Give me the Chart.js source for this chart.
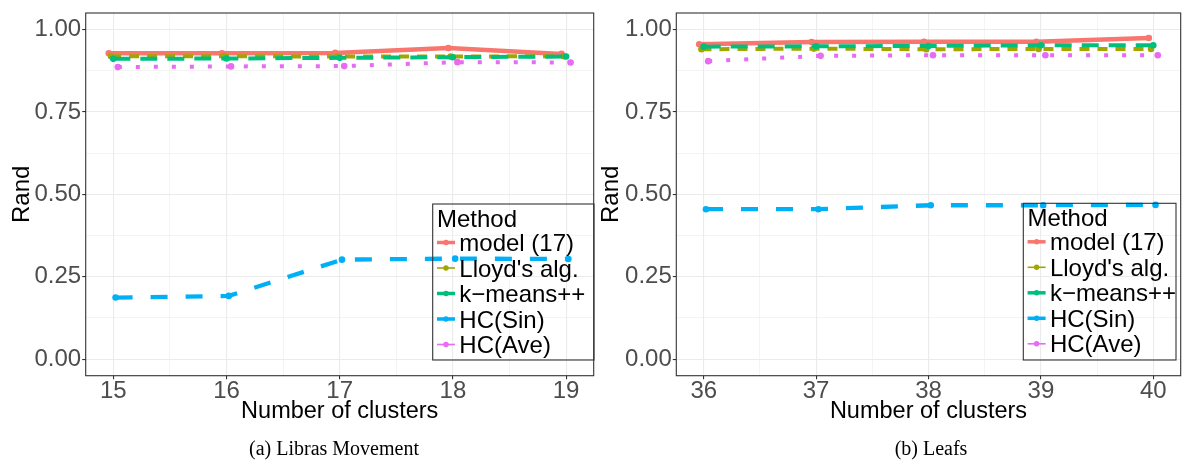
<!DOCTYPE html>
<html>
<head>
<meta charset="utf-8">
<script src="https://cdn.jsdelivr.net/npm/chart.js@4.4.1/dist/chart.umd.min.js"></script>
<style>
  html, body { margin: 0; padding: 0; background: #fff; }
  #wrap { position: relative; width: 1184px; height: 463px; overflow: hidden; }
  canvas { position: absolute; top: 0; }
  #c1 { left: 0; }
  #c2 { left: 597px; }
  .caption {
    position: absolute; top: 437px; line-height: 23px;
    font-family: "Liberation Serif", "Times New Roman", serif; font-size: 20px;
    color: #000; transform: translateX(-50%); white-space: nowrap;
  }
</style>
</head>
<body>
<div id="wrap">
  <canvas id="c1" width="597" height="463"></canvas>
  <canvas id="c2" width="587" height="463"></canvas>
  <div class="caption" style="left:334px">(a) Libras Movement</div>
  <div class="caption" style="left:931px">(b) Leafs</div>
</div>
<script>
// series, in ggplot's default hue order
const methods = ['model (17)', "Lloyd's alg.", 'k\u2212means++', 'HC(Sin)', 'HC(Ave)'];
const colors = ['#F8766D', '#A3A500', '#00BF7D', '#00B0F6', '#E76BF3'];
const dashes = [[], [10, 8], [17, 10], [17, 18], [4, 14]];
const lineWidths = [4.5, 4, 4, 4.3, 4];
const keyWidths = [3.5, 1.6, 3.5, 3.5, 1.6];
const dodge = [-0.04, -0.02, 0, 0.02, 0.04];

// (a) Libras Movement
const librasClusters = [15, 16, 17, 18, 19];
const librasModel = [0.928, 0.928, 0.929, 0.944, 0.926];
const librasLloyd = [0.919, 0.919, 0.918, 0.918, 0.919];
const librasKmeans = [0.911, 0.912, 0.914, 0.916, 0.918];
const librasSin = [0.187, 0.192, 0.302, 0.305, 0.304];
const librasAve = [0.886, 0.888, 0.889, 0.901, 0.900];

// (b) Leafs
const leafsClusters = [36, 37, 38, 39, 40];
const leafsModel = [0.955, 0.962, 0.963, 0.963, 0.974];
const leafsLloyd = [0.940, 0.942, 0.940, 0.941, 0.941];
const leafsKmeans = [0.948, 0.949, 0.950, 0.952, 0.952];
const leafsSin = [0.455, 0.455, 0.467, 0.467, 0.468];
const leafsAve = [0.904, 0.920, 0.922, 0.922, 0.922];

const yTicks = [0, 0.25, 0.5, 0.75, 1];
const yTickLabels = ['0.00', '0.25', '0.50', '0.75', '1.00'];

const FONT = '"Liberation Sans", Arial, Helvetica, sans-serif';

function withMinor(major) {
  const out = [];
  major.forEach((v, i) => {
    out.push(v);
    if (i < major.length - 1) out.push((v + major[i + 1]) / 2);
  });
  return out;
}

function makeChart(id, clusters, series, lay) {
  const datasets = series.map((vals, i) => ({
    label: methods[i],
    data: vals.map((v, j) => ({ x: clusters[j] + dodge[i], y: v })),
    borderColor: colors[i],
    backgroundColor: colors[i],
    borderWidth: lineWidths[i],
    borderDash: dashes[i],
    borderCapStyle: 'butt',
    pointRadius: 3.3,
    pointHoverRadius: 3.3,
    pointBorderWidth: 0,
    tension: 0,
    order: series.length - i
  }));

  const xLo = clusters[0] + dodge[0];
  const xHi = clusters[clusters.length - 1] + dodge[dodge.length - 1];
  const xPad = (xHi - xLo) * 0.05;
  const xGrid = withMinor(clusters);
  const yGrid = withMinor(yTicks);

  const frame = {
    id: 'frame',
    afterDatasetsDraw(chart) {
      const a = chart.chartArea, c = chart.ctx;
      c.save();
      c.strokeStyle = '#333333';
      c.lineWidth = 1.1;
      c.strokeRect(a.left, a.top, a.right - a.left, a.bottom - a.top);
      c.restore();
    }
  };

  const boxLegend = {
    id: 'boxLegend',
    afterDraw(chart) {
      const c = chart.ctx, b = lay.legend;
      c.save();
      c.strokeStyle = '#333333';
      c.lineWidth = 1.1;
      c.strokeRect(b.left, b.top, b.width, b.height);
      c.font = '24px ' + FONT;
      c.textAlign = 'left';
      c.textBaseline = 'alphabetic';
      c.fillStyle = '#000';
      c.fillText('Method', b.left + 4.3, b.top + 22.6);
      chart.data.datasets.forEach((ds, i) => {
        const cy = b.top + 38.5 + i * 25.5;
        c.setLineDash([]);
        c.strokeStyle = ds.borderColor;
        c.lineWidth = keyWidths[i];
        c.beginPath();
        c.moveTo(b.left + 4.3, cy);
        c.lineTo(b.left + 22.3, cy);
        c.stroke();
        c.fillStyle = ds.borderColor;
        c.beginPath();
        c.arc(b.left + 13.3, cy, 2.7, 0, Math.PI * 2);
        c.fill();
        c.fillStyle = '#000';
        c.fillText(ds.label, b.left + 26.6, cy + 8.6);
      });
      c.restore();
    }
  };

  const isMajorX = v => clusters.includes(v);
  const isMajorY = v => yTicks.includes(v);

  return new Chart(document.getElementById(id), {
    type: 'line',
    data: { datasets },
    options: {
      responsive: false,
      animation: false,
      events: [],
      layout: { padding: { top: 8.3, right: lay.rightPad, left: 0, bottom: 0 } },
      plugins: { legend: { display: false }, tooltip: { enabled: false }, title: { display: false } },
      scales: {
        x: {
          type: 'linear',
          min: xLo - xPad,
          max: xHi + xPad,
          afterFit: s => { s.height = 87.3; },
          afterBuildTicks: s => { s.ticks = xGrid.map(v => ({ value: v })); },
          border: { display: false },
          grid: {
            color: '#ebebeb',
            lineWidth: ctx => isMajorX(ctx.tick.value) ? 1.1 : 0.55,
            tickColor: ctx => isMajorX(ctx.tick.value) ? '#333333' : 'rgba(0,0,0,0)',
            tickWidth: 1.1,
            tickLength: 3.5
          },
          ticks: {
            autoSkip: false,
            maxRotation: 0,
            padding: 0,
            color: '#4d4d4d',
            font: { family: FONT, size: 24, lineHeight: 1 },
            callback: v => isMajorX(v) ? String(v) : ''
          },
          title: {
            display: true,
            text: 'Number of clusters',
            color: '#000',
            font: { family: FONT, size: 23.5 },
            padding: { top: 0, bottom: 36.9 }
          }
        },
        y: {
          type: 'linear',
          min: -0.05,
          max: 1.05,
          afterFit: s => { s.width = lay.yWidth; },
          afterBuildTicks: s => { s.ticks = yGrid.map(v => ({ value: v })); },
          border: { display: false },
          grid: {
            color: '#ebebeb',
            lineWidth: ctx => isMajorY(ctx.tick.value) ? 1.1 : 0.55,
            tickColor: ctx => isMajorY(ctx.tick.value) ? '#333333' : 'rgba(0,0,0,0)',
            tickWidth: 1.1,
            tickLength: 3.5
          },
          ticks: {
            autoSkip: false,
            padding: 1,
            color: '#4d4d4d',
            font: { family: FONT, size: 24, lineHeight: 1 },
            callback: v => isMajorY(v) ? yTickLabels[yTicks.indexOf(v)] : ''
          },
          title: {
            display: true,
            text: 'Rand',
            color: '#000',
            font: { family: FONT, size: 24 },
            padding: { top: lay.titlePad, bottom: 0 }
          }
        }
      }
    },
    plugins: [frame, boxLegend]
  });
}

makeChart('c1', librasClusters,
  [librasModel, librasLloyd, librasKmeans, librasSin, librasAve],
  { yWidth: 85.7, rightPad: 1, titlePad: 7.6,
    legend: { left: 432.7, top: 204, width: 161.3, height: 156 } });

makeChart('c2', leafsClusters,
  [leafsModel, leafsLloyd, leafsKmeans, leafsSin, leafsAve],
  { yWidth: 79.3, rightPad: 0.5, titlePad: 0.3,
    legend: { left: 426.3, top: 203.3, width: 152.7, height: 156.7 } });
</script>
</body>
</html>
